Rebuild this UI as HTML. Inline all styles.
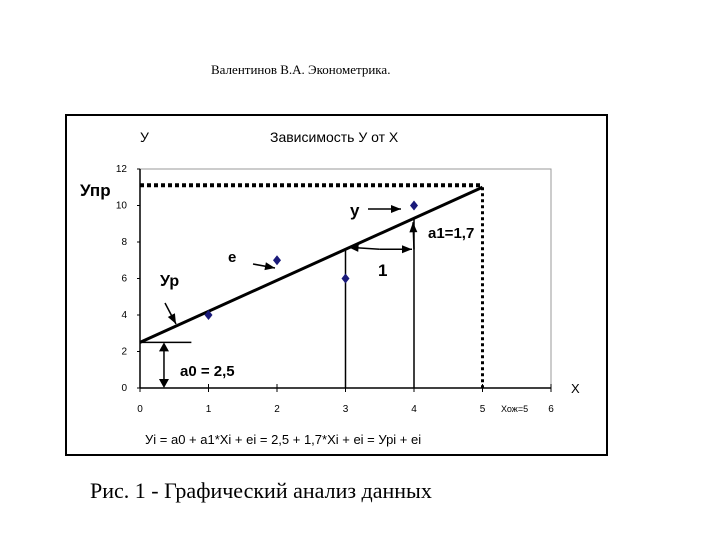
<!DOCTYPE html>
<html><head><meta charset="utf-8"><style>
body{margin:0;width:720px;height:540px;background:#fff;overflow:hidden;position:relative;font-family:"Liberation Sans","DejaVu Sans",sans-serif}
</style></head><body>
<div style="position:absolute;left:211px;top:62px;font:13px 'Liberation Serif',serif">Валентинов В.А. Эконометрика.</div>
<div style="position:absolute;left:90px;top:478px;font:22px 'Liberation Serif',serif">Рис. 1 - Графический анализ данных</div>
<svg width="720" height="540" style="position:absolute;left:0;top:0" id="svg"></svg>
<script>
const xs=[1,2,3,4];
const ys=[4,7,6,10];
const xTicks=[0,1,2,3,4,5,6];
const yTicks=[0,2,4,6,8,10,12];
const a0=2.5, a1=1.7, xPred=5;
const X=v=>140+v*68.5, Y=v=>388-v*18.25;
const s=document.getElementById('svg');
function el(t,a,txt){const e=document.createElementNS('http://www.w3.org/2000/svg',t);for(const k in a)e.setAttribute(k,a[k]);if(txt!=null)e.textContent=txt;s.appendChild(e);return e;}
let e;
e=el('rect',{x:66,y:115,width:541,height:340,fill:'none',stroke:'#000','stroke-width':2});


e=el('rect',{x:X(0),y:Y(12),width:X(6)-X(0),height:Y(0)-Y(12),fill:'none',stroke:'#999','stroke-width':1});


e=el('line',{x1:X(0),y1:Y(0),x2:X(6),y2:Y(0),stroke:'#000','stroke-width':1.5});


e=el('line',{x1:X(0),y1:Y(0),x2:X(0),y2:Y(12),stroke:'#000','stroke-width':1.5});


xTicks.forEach(t=>{
 e=el('line',{x1:X(t),y1:Y(0)-4,x2:X(t),y2:Y(0)+4,stroke:'#000'});
 
 
 e=el('text',{x:X(t),y:412,'font-size':10,'text-anchor':'middle'},t);
 
 
});
yTicks.forEach(t=>{
 e=el('line',{x1:X(0)-3,y1:Y(t),x2:X(0),y2:Y(t),stroke:'#000'});
 
 
 e=el('text',{x:127,y:Y(t)+3,'font-size':10,'text-anchor':'end'},t);
 
 
});
e=el('line',{x1:X(0),y1:Y(a0+a1*xPred)-2,x2:X(xPred),y2:Y(a0+a1*xPred)-2,stroke:'#000','stroke-width':4,'stroke-dasharray':'4,3'});


e=el('line',{x1:X(xPred),y1:Y(a0+a1*xPred),x2:X(xPred),y2:Y(0),stroke:'#000','stroke-width':3,'stroke-dasharray':'3,3'});


e=el('line',{x1:X(0),y1:Y(a0),x2:X(xPred),y2:Y(a0+a1*xPred),stroke:'#000','stroke-width':3});


[3,4].forEach(v=>{e=el('line',{x1:X(v),y1:Y(0),x2:X(v),y2:Y(a0+a1*v),stroke:'#000','stroke-width':1.5});

});
e=el('line',{x1:X(0),y1:Y(a0),x2:X(0.75),y2:Y(a0),stroke:'#000','stroke-width':1.5});


e=el('line',{x1:X(0.35),y1:Y(a0)+6,x2:X(0.35),y2:Y(0)-6,stroke:'#000','stroke-width':1.5});


e=el('path',{d:`M${X(0.35)-5},${Y(a0)+9}L${X(0.35)},${Y(a0)}L${X(0.35)+5},${Y(a0)+9}ZM${X(0.35)-5},${Y(0)-9}L${X(0.35)},${Y(0)}L${X(0.35)+5},${Y(0)-9}Z`,fill:'#000'});


xs.forEach((x,i)=>{const cx=X(x),cy=Y(ys[i]);
 e=el('path',{d:`M${cx},${cy-5}L${cx+4},${cy}L${cx},${cy+5}L${cx-4},${cy}Z`,fill:'#1a1a7a'});
 
 });
function arrow(x1,y1,x2,y2,name){e=el('line',{x1,y1,x2,y2,stroke:'#000','stroke-width':1.5});


const a=Math.atan2(y2-y1,x2-x1),L=10,w=4;
e=el('path',{d:`M${x2},${y2}L${x2-L*Math.cos(a)+w*Math.sin(a)},${y2-L*Math.sin(a)-w*Math.cos(a)}L${x2-L*Math.cos(a)-w*Math.sin(a)},${y2-L*Math.sin(a)+w*Math.cos(a)}Z`,fill:'#000'});

}
const ry=Y(a0+a1*3);
arrow(X(3.5),ry,X(4)-2,ry,'run-arrow-right');arrow(X(3.5),ry,X(3)+3,ry-2,'run-arrow-left');
arrow(368,209,401,209,'y-arrow');
arrow(X(4),ry,X(4)-1,Y(a0+a1*4)+4,'rise-arrow');
arrow(253,264,275,268,'e-arrow');
arrow(165,303,176,324,'yp-arrow');
const labels=[["У",140,142,14,'normal','y-axis-title'],["Зависимость У от  Х",270,142,14,'normal','chart-title'],["Упр",80,196,17,'bold','ypr-label'],["у",350,216,17,'bold','y-label'],["а1=1,7",428,238,15,'bold','a1-label'],["1",378,276,17,'bold','one-label'],["е",228,262,15,'bold','e-label'],["Ур",160,286,16,'bold','yp-label'],["а0 = 2,5",180,376,15,'bold','a0-label'],["Х",571,393,13,'normal','x-axis-title'],["Хож=5",501,412,9,'normal','xoj-label'],["Уi = a0 + a1*Xi + ei = 2,5 + 1,7*Xi + ei = Урi + ei",145,444,13,'normal','equation']];
labels.forEach(l=>{e=el('text',{x:l[1],y:l[2],'font-size':l[3],'font-weight':l[4]},l[0]);

});
</script>
</body></html>
